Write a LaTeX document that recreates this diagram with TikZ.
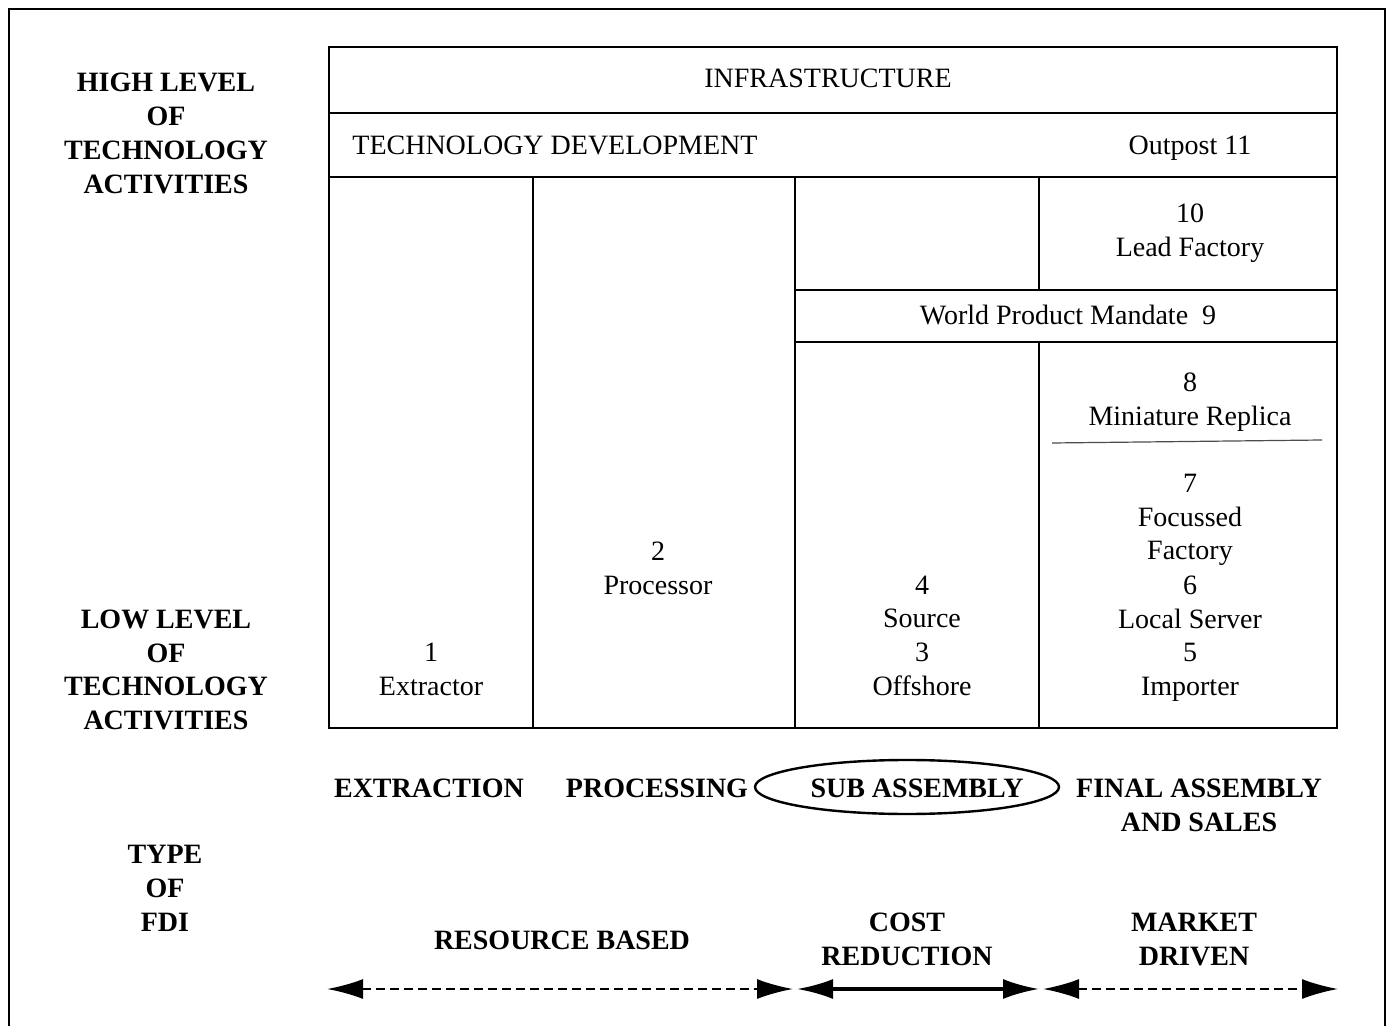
\documentclass[tikz,border=0pt]{standalone}
\usepackage{fontspec}
\setmainfont{Liberation Serif}
\usetikzlibrary{arrows.meta}

\begin{document}
\begin{tikzpicture}[
x=0.5pt,y=-0.5pt,
every node/.style={inner sep=0pt,align=center,font=\fontsize{14}{16.9}\selectfont},
side/.style={font=\fontsize{14}{16.9}\selectfont\bfseries},
grid/.style={line width=1pt},
fdi/.style={line width=1.1pt,dash pattern=on 4.5pt off 2.5pt,
    {Latex[length=18pt,width=10pt]}-{Latex[length=18pt,width=10pt]}}
]
\useasboundingbox (0,0) rectangle (1392,1026);

% outer frame
\draw[grid] (9,1026) -- (9,9) -- (1385,9) -- (1385,1026);

% the value chain table
\draw[grid] (329,47) rectangle (1337,728);
\draw[grid] (329,113) -- (1337,113);
\draw[grid] (329,177) -- (1337,177);
\draw[grid] (533,177) -- (533,728);
\draw[grid] (795,177) -- (795,728);
\draw[grid] (1039,177) -- (1039,290);
\draw[grid] (795,290) -- (1337,290);
\draw[grid] (795,342) -- (1337,342);
\draw[grid] (1039,342) -- (1039,728);
\draw[line width=0.6pt,black!70] (1052,443) -- (1322,440);

% level labels
\node[side] (high) at (166,133.5) {HIGH LEVEL\\OF\\TECHNOLOGY\\ACTIVITIES};
\node[side] (low) at (166,670) {LOW LEVEL\\OF\\TECHNOLOGY\\ACTIVITIES};
\node[side] (type) at (165,888.5) {TYPE\\OF\\FDI};

% cells
\node (infra) at (828,78) {INFRASTRUCTURE};
\node[anchor=west] (techdev) at (352,145) {TECHNOLOGY DEVELOPMENT};
\node (outpost) at (1190,148) {Outpost 11};
\node (lead) at (1190,233) {10\\Lead Factory};
\node (mandate) at (1068,315) {World Product Mandate~~9};
\node (replica) at (1190,402) {8\\Miniature Replica};
\node (focussed) at (1190,520) {7\\Focussed\\Factory};
\node (server) at (1190,602) {6\\Local Server};
\node (importer) at (1190,672) {5\\Importer};
\node (source) at (922,602) {4\\Source};
\node (offshore) at (922,669) {3\\Offshore};
\node (processor) at (658,568) {2\\Processor};
\node (extractor) at (431,669) {1\\Extractor};

% stages
\node[side] (extraction) at (429,788) {EXTRACTION};
\node[side] (processing) at (657,788) {PROCESSING};
\node[side] (subassy) at (917,788) {SUB ASSEMBLY};
\node[side] (final) at (1199,805) {FINAL ASSEMBLY\\AND SALES};
\draw[line width=1.2pt] (907,787) ellipse [x radius=152, y radius=27];

% types of FDI
\node[side] (resource) at (562,940) {RESOURCE BASED};
\node[side] (cost) at (907,939.5) {COST\\REDUCTION};
\node[side] (market) at (1194,939.5) {MARKET\\DRIVEN};

\coordinate (r1) at (327,989);
\coordinate (r2) at (793,989);
\coordinate (c1) at (797,989);
\coordinate (c2) at (1039,989);
\coordinate (m1) at (1043,989);
\coordinate (m2) at (1338,989);
\draw[fdi] (r1) -- (r2);
\draw[fdi,solid,line width=1.6pt] (c1) -- (c2);
\draw[fdi] (m1) -- (m2);
\end{tikzpicture}
\end{document}
